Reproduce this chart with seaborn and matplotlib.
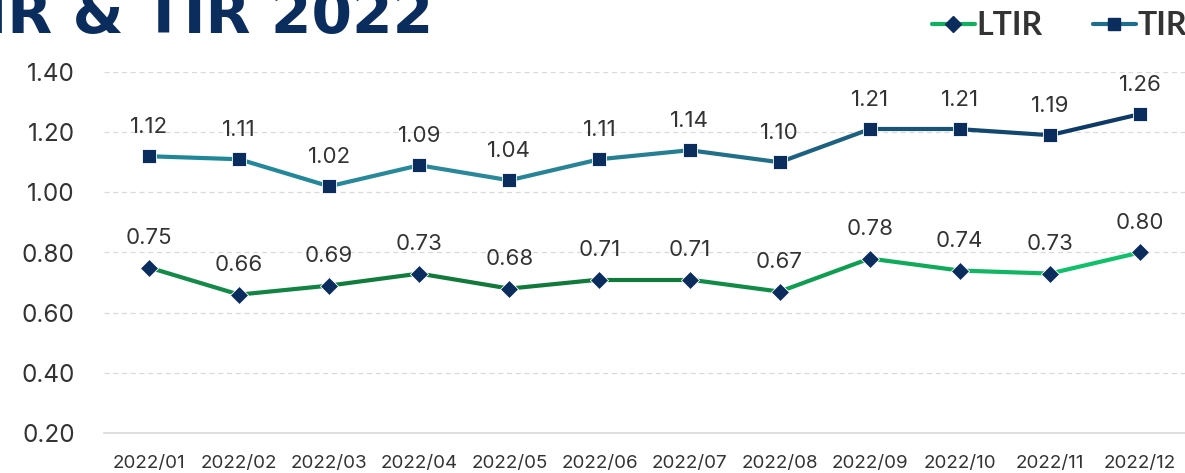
import matplotlib
matplotlib.use("Agg")
import matplotlib.pyplot as plt
import numpy as np
import pandas as pd
import seaborn as sns
from matplotlib.colors import LinearSegmentedColormap
from matplotlib.lines import Line2D

months = ["2022/01", "2022/02", "2022/03", "2022/04", "2022/05", "2022/06",
          "2022/07", "2022/08", "2022/09", "2022/10", "2022/11", "2022/12"]
ltir = [0.75, 0.66, 0.69, 0.73, 0.68, 0.71, 0.71, 0.67, 0.78, 0.74, 0.73, 0.80]
tir = [1.12, 1.11, 1.02, 1.09, 1.04, 1.11, 1.14, 1.10, 1.21, 1.21, 1.19, 1.26]
y_ticks = [0.20, 0.40, 0.60, 0.80, 1.00, 1.20, 1.40]

NAVY = "#0b2d5e"
TEXT = "#333333"
GRID = "#d9d9d9"
LTIR_CMAP = LinearSegmentedColormap.from_list("ltir", ["#138a48", "#0f7a3a", "#0f7a3a", "#0fa656", "#10c06a"])
TIR_CMAP = LinearSegmentedColormap.from_list("tir", ["#1f8798", "#2a8a9a", "#257f93", "#1b5a7c", "#0d3a66"])

sns.set_theme(style="white")
plt.rcParams["font.family"] = ["Inter", "DejaVu Sans"]

df = pd.DataFrame({"x": np.arange(len(months)), "LTIR": ltir, "TIR": tir})

fig = plt.figure(figsize=(11.85, 4.73), dpi=100)
ax = fig.add_axes([104 / 1185, 1 - 433 / 473, 1 - 104 / 1185, (433 - 72) / 473])


def draw_series(col, cmap, marker, size):
    n = len(df) - 1
    for i in range(n):
        seg = df.iloc[i:i + 2]
        sns.lineplot(data=seg, x="x", y=col, color=cmap(i / (n - 1)), linewidth=3.0,
                     ax=ax, zorder=2, solid_capstyle="round")
    sns.scatterplot(data=df, x="x", y=col, marker=marker, s=size, color=NAVY,
                    edgecolor="white", linewidth=0.6, ax=ax, zorder=3)
    for xi, v in zip(df["x"], df[col]):
        ax.annotate(f"{v:.2f}", (xi, v), xytext=(0, 14), textcoords="offset points",
                    ha="center", va="bottom", fontsize=16, color=TEXT)


draw_series("LTIR", LTIR_CMAP, "D", 85)
draw_series("TIR", TIR_CMAP, "s", 105)

ax.set_xlim(-0.5, len(months) - 0.5)
ax.set_ylim(y_ticks[0], y_ticks[-1])
ax.set_yticks(y_ticks, [f"{t:.2f}" for t in y_ticks])
ax.set_xticks(np.arange(len(months)), months)
ax.set_xticks(np.arange(len(months) + 1) - 0.5, minor=True)
ax.tick_params(axis="x", which="major", length=0, labelsize=13.5, labelcolor=TEXT, pad=16)
ax.tick_params(axis="x", which="minor", length=7, color=GRID, width=1.2, direction="out")
ax.tick_params(axis="y", length=0, labelsize=17.5, labelcolor=TEXT, pad=21)
ax.set_xlabel("")
ax.set_ylabel("")
ax.grid(axis="y", color=GRID, linestyle=(0, (4, 3)), linewidth=0.9)
ax.spines[["top", "right", "left"]].set_visible(False)
ax.spines["bottom"].set_color(GRID)
ax.spines["bottom"].set_linewidth(1.2)
ax.get_ygridlines()[0].set_visible(False)

fig.text(433 / 1185, 1 - 33 / 473, "LTIR & TIR 2022", ha="right", va="baseline",
         fontsize=42, fontweight="bold", color=NAVY, family=["DejaVu Sans"])

handles = [
    Line2D([], [], color="#10b060", linewidth=3, marker="D", markersize=8,
           markerfacecolor=NAVY, markeredgecolor=NAVY, label="LTIR"),
    Line2D([], [], color="#1f6f8a", linewidth=3, marker="s", markersize=9,
           markerfacecolor=NAVY, markeredgecolor=NAVY, label="TIR"),
]
leg = fig.legend(handles=handles, loc="upper right", bbox_to_anchor=(1.026, 1.037), ncols=2,
                 frameon=False, handlelength=1.35, handletextpad=0.05, columnspacing=1.58,
                 prop={"family": ["Lato", "DejaVu Sans"], "size": 23, "weight": "bold"})
for txt in leg.get_texts():
    txt.set_color(TEXT)

fig.savefig("out.png", dpi=100)
